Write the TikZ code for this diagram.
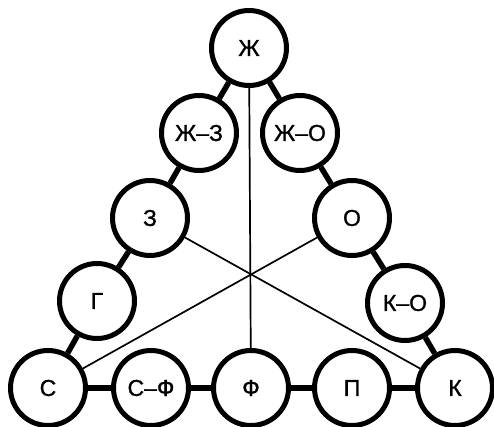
\documentclass[tikz,border=0pt]{standalone}
\usepackage{fontspec}
\setmainfont{Liberation Sans}
\newfontfamily\lblfont[FakeBold=1.2]{Liberation Sans}
\begin{document}
\begin{tikzpicture}[x=1pt,y=-1pt,
  circ/.style={circle,draw,line width=5pt,minimum size=75pt,inner sep=0pt,font=\lblfont\fontsize{23}{27}\selectfont},
  thick link/.style={line width=5.5pt},
  thin link/.style={line width=1.7pt}]
\useasboundingbox (0,0) rectangle (494,427);
\node[circ] (zh) at (249,48) {Ж};
\node[circ] (zhz) at (199,133) {Ж–З};
\node[circ] (zho) at (300,133) {Ж–О};
\node[circ] (z) at (150,218) {З};
\node[circ] (o) at (352,218) {О};
\node[circ] (g) at (97,301) {Г};
\node[circ] (ko) at (405,303) {К–О};
\node[circ] (s) at (48,388) {С};
\node[circ] (sf) at (151,388) {С–Ф};
\node[circ] (f) at (251,388) {Ф};
\node[circ] (p) at (352,388) {П};
\node[circ] (k) at (455,388) {К};
\draw[thin link] (zh) -- (f);
\draw[thin link] (z) -- (k);
\draw[thin link] (o) -- (s);
\draw[thick link] (zh) -- (zhz);
\draw[thick link] (zh) -- (zho);
\draw[thick link] (zhz) -- (z);
\draw[thick link] (z) -- (g);
\draw[thick link] (g) -- (s);
\draw[thick link] (s) -- (sf);
\draw[thick link] (sf) -- (f);
\draw[thick link] (f) -- (p);
\draw[thick link] (p) -- (k);
\draw[thick link] (k) -- (ko);
\draw[thick link] (ko) -- (o);
\draw[thick link] (o) -- (zho);
\end{tikzpicture}
\end{document}
